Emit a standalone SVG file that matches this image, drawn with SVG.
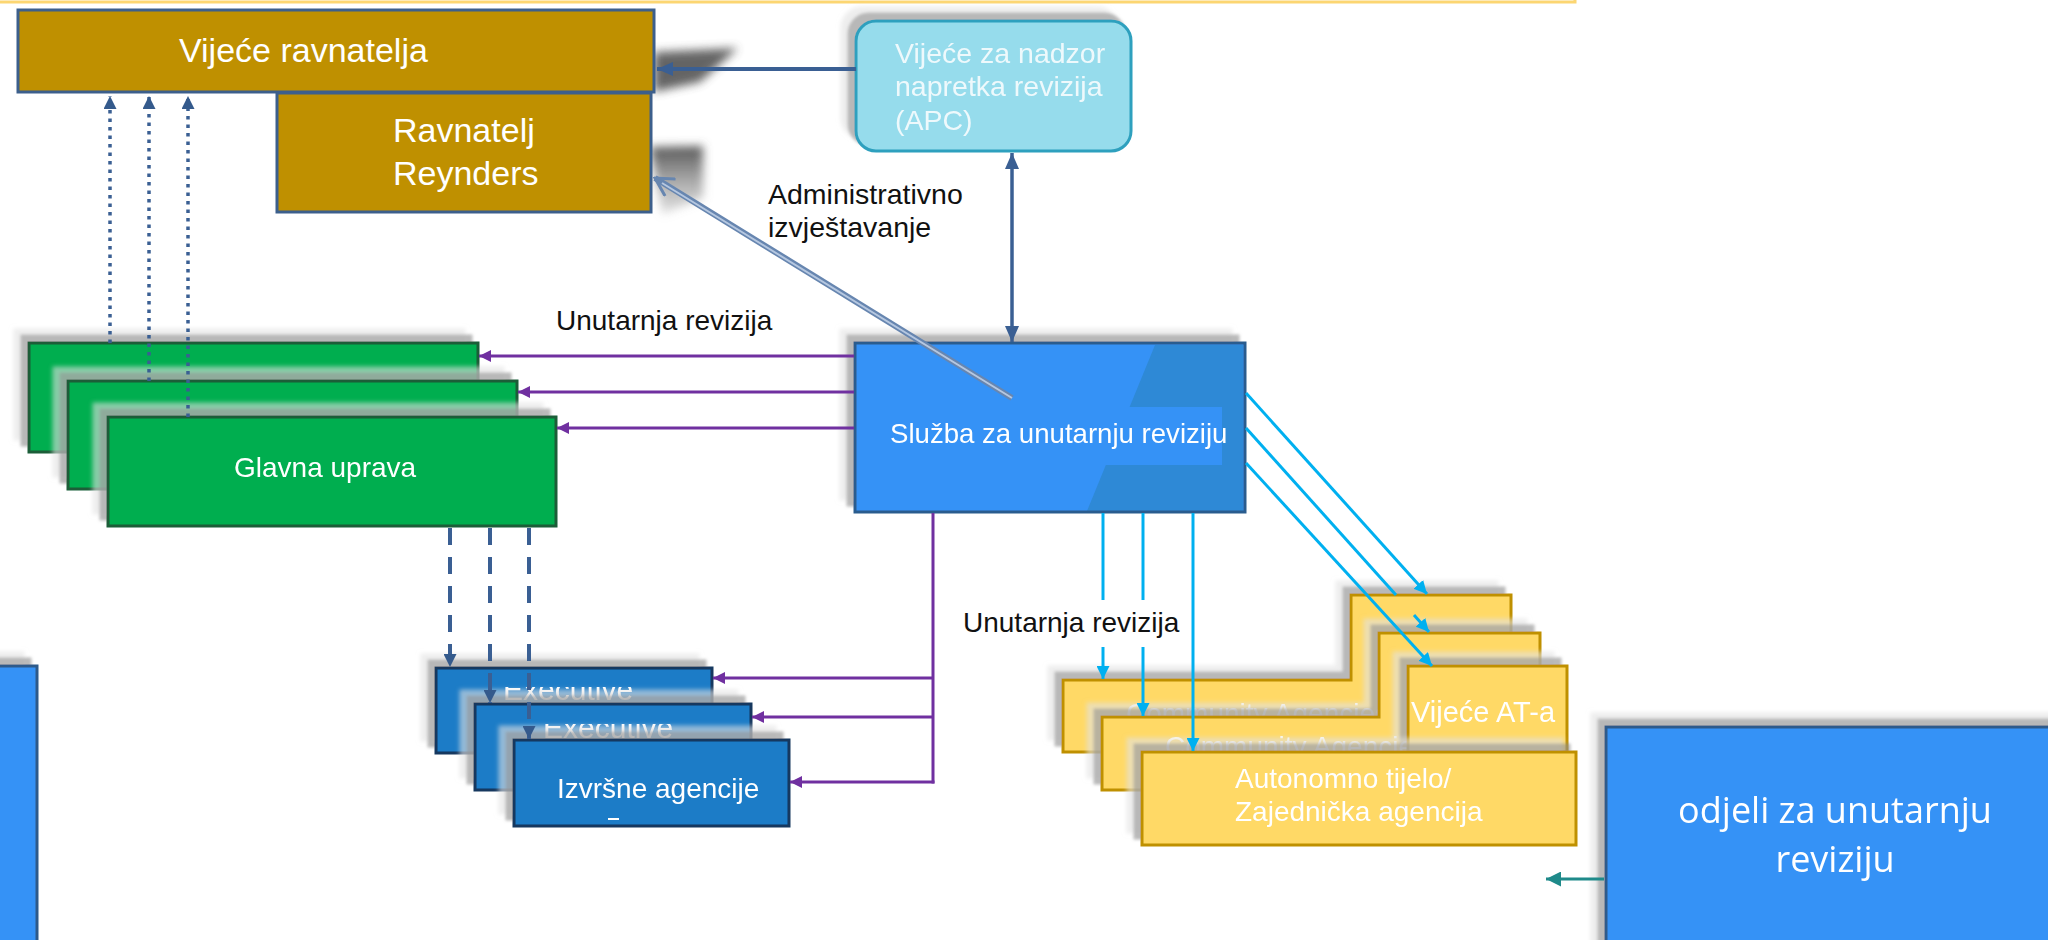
<svg xmlns="http://www.w3.org/2000/svg" width="2048" height="940" viewBox="0 0 2048 940">
<style>
.t{font-family:"Liberation Sans",Arial,sans-serif}
.w{fill:#ffffff}
.gold{fill:#BF9000;stroke:#3C5F8C;stroke-width:3}
.grn{fill:#00AE4F;stroke:#1B5D39;stroke-width:3}
.exe{fill:#1E7BC7;stroke:#12385E;stroke-width:3}
.yel{fill:#FFD966;stroke:#BF9000;stroke-width:3}
.blu{fill:#3592F6;stroke:#2E5A8A;stroke-width:3}
.pur{stroke:#7030A0;stroke-width:3;fill:none}
.cya{stroke:#00B0F0;stroke-width:3;fill:none}
.stl{stroke:#3A5F93;fill:none}
</style>
<defs>
<filter id="sh" x="-15%" y="-40%" width="130%" height="180%">
<feOffset in="SourceAlpha" dx="-14" dy="-13" result="o1"/>
<feGaussianBlur in="o1" stdDeviation="2" result="b1"/>
<feFlood flood-color="#e2e2e2" flood-opacity="0.6"/>
<feComposite in2="b1" operator="in" result="s1"/>
<feOffset in="SourceAlpha" dx="-7" dy="-7" result="o2"/>
<feGaussianBlur in="o2" stdDeviation="1.5" result="b2"/>
<feFlood flood-color="#8c8c8c" flood-opacity="0.6"/>
<feComposite in2="b2" operator="in" result="s2"/>
<feMerge><feMergeNode in="s1"/><feMergeNode in="s2"/><feMergeNode in="SourceGraphic"/></feMerge>
</filter>
<filter id="bl" x="-50%" y="-50%" width="200%" height="200%"><feGaussianBlur stdDeviation="5"/></filter>
<linearGradient id="gs" x1="0" y1="0" x2="0" y2="1"><stop offset="0" stop-color="#555"/><stop offset="1" stop-color="#999" stop-opacity="0.3"/></linearGradient>
<marker id="mB" viewBox="0 0 16 14" refX="16" refY="7" markerWidth="16" markerHeight="14" orient="auto-start-reverse" markerUnits="userSpaceOnUse"><path d="M0,0 L16,7 L0,14 Z" fill="#3A5F93"/></marker>
<marker id="mBs" viewBox="0 0 13 13" refX="13" refY="6.5" markerWidth="13" markerHeight="13" orient="auto" markerUnits="userSpaceOnUse"><path d="M0,0 L13,6.5 L0,13 Z" fill="#345A8C"/></marker>
<marker id="mP" viewBox="0 0 12 12" refX="12" refY="6" markerWidth="12" markerHeight="12" orient="auto" markerUnits="userSpaceOnUse"><path d="M0,0 L12,6 L0,12 Z" fill="#7030A0"/></marker>
<marker id="mC" viewBox="0 0 13 13" refX="13" refY="6.5" markerWidth="13" markerHeight="13" orient="auto" markerUnits="userSpaceOnUse"><path d="M0,0 L13,6.5 L0,13 Z" fill="#00B0F0"/></marker>
<marker id="mT" viewBox="0 0 15 15" refX="15" refY="7.5" markerWidth="15" markerHeight="15" orient="auto" markerUnits="userSpaceOnUse"><path d="M0,0 L15,7.5 L0,15 Z" fill="#1F8A8A"/></marker>
<marker id="mO" viewBox="0 0 22 22" refX="20" refY="11" markerWidth="22" markerHeight="22" orient="auto" markerUnits="userSpaceOnUse"><path d="M2,1 L20,11 L2,21" fill="none" stroke="#6786B0" stroke-width="3"/></marker>
</defs>
<rect width="2048" height="940" fill="#ffffff"/>
<path d="M-5,2 H1575 V-5" fill="none" stroke="#FCD672" stroke-width="3"/>

<g id="vijece-ravnatelja">
<polygon points="654,52 738,48 700,82 654,92" fill="#4a4a4a" opacity="0.85" filter="url(#bl)"/>
<rect class="gold" x="18" y="10" width="636" height="82"/>
<text class="t w" x="179" y="62" font-size="34">Vijeće ravnatelja</text>
</g>
<g id="ravnatelj-reynders">
<polygon points="650,147 703,146 703,198 662,214" fill="url(#gs)" filter="url(#bl)"/>
<rect class="gold" x="277" y="93" width="374" height="119"/>
<text class="t w" x="393" y="142" font-size="34">Ravnatelj</text>
<text class="t w" x="393" y="185" font-size="34">Reynders</text>
</g>
<g id="apc" filter="url(#sh)">
<rect x="856" y="21" width="275" height="130" rx="20" ry="20" fill="#96DCEC" stroke="#2DA0BE" stroke-width="3"/>
<text class="t" fill="#EEF9FC" font-size="28.5"><tspan x="895" y="63">Vijeće za nadzor</tspan><tspan x="895" y="96">napretka revizija</tspan><tspan x="895" y="130">(APC)</tspan></text>
</g>
<g id="sluzba" filter="url(#sh)">
<rect x="855" y="343" width="390" height="169" fill="#3592F6"/>
<polygon points="1155,345 1243,345 1243,511 1087,511" fill="#2E89D6"/>
<rect x="1000" y="407" width="222" height="58" fill="#3592F6"/>
<rect x="855" y="343" width="390" height="169" fill="none" stroke="#2C5C8E" stroke-width="3"/>
<text class="t w" x="890" y="443" font-size="27.6">Služba za unutarnju reviziju</text>
</g>
<g id="glavna-uprava-1" filter="url(#sh)"><rect class="grn" x="29" y="343" width="449" height="109"/></g>
<g id="glavna-uprava-2" filter="url(#sh)"><rect class="grn" x="68" y="381" width="449" height="108"/></g>
<g id="glavna-uprava-3" filter="url(#sh)">
<rect class="grn" x="108" y="417" width="448" height="109"/>
<text class="t w" x="234" y="477" font-size="28">Glavna uprava</text>
</g>
<g id="izvrsne-agencije-1" filter="url(#sh)">
<rect class="exe" x="436" y="668" width="276" height="85"/>
<text class="t w" x="503" y="700" font-size="30">Executive</text>
<rect x="500" y="670" width="166" height="17" fill="#1E7BC7"/>
</g>
<g id="izvrsne-agencije-2" filter="url(#sh)">
<rect class="exe" x="475" y="704" width="276" height="86"/>
<text class="t w" x="543" y="738" font-size="30">Executive</text>
<rect x="540" y="706" width="141" height="18" fill="#1E7BC7"/>
</g>
<g id="izvrsne-agencije-3" filter="url(#sh)">
<rect class="exe" x="514" y="740" width="275" height="86"/>
<text class="t w" x="557" y="798" font-size="28">Izvršne agencije</text>
<rect x="608" y="818" width="11" height="2" fill="#ffffff"/>
</g>
<g id="agencija-1" filter="url(#sh)">
<path class="yel" d="M1063,680 H1351 V595 H1511 V752 H1063 Z"/>
<text class="t" fill="#ffffff" fill-opacity="0.9" x="1126" y="723" font-size="28">Community Agencies</text>
</g>
<g id="agencija-2" filter="url(#sh)">
<path class="yel" d="M1102,717 H1379 V633 H1540 V790 H1102 Z"/>
<text class="t" fill="#ffffff" fill-opacity="0.9" x="1165" y="756" font-size="28">Community Agencies</text>
</g>
<g id="vijece-at" filter="url(#sh)">
<rect class="yel" x="1408" y="666" width="159" height="86"/>
<text class="t w" x="1411" y="722" font-size="29">Vijeće AT-a</text>
</g>
<g id="autonomno-tijelo" filter="url(#sh)">
<rect class="yel" x="1142" y="752" width="434" height="93"/>
<text class="t w" font-size="28"><tspan x="1235" y="788">Autonomno tijelo/</tspan><tspan x="1235" y="821">Zajednička agencija</tspan></text>
</g>
<g id="lijevi-odjel" filter="url(#sh)">
<rect class="blu" x="-20" y="666" width="57" height="300"/>
</g>
<g id="odjeli" filter="url(#sh)">
<rect class="blu" x="1606" y="727" width="460" height="230" stroke-width="4"/>
<text fill="#ffffff" font-family="'Open Sans','Noto Sans',sans-serif" font-size="36" text-anchor="middle"><tspan x="1835" y="823">odjeli za unutarnju</tspan><tspan x="1835" y="872">reviziju</tspan></text>
</g>

<g id="connectors">
<line class="stl" x1="856" y1="69" x2="657" y2="69" stroke-width="4" marker-end="url(#mB)"/>
<line class="stl" x1="1012" y1="153" x2="1012" y2="342" stroke-width="3.5" marker-start="url(#mB)" marker-end="url(#mB)"/>
<line x1="1012" y1="398" x2="655" y2="178" stroke="#6786B0" stroke-width="6" marker-end="url(#mO)"/>
<line x1="1012" y1="398" x2="662" y2="183" stroke="#B5C7E0" stroke-width="2"/>
<g class="stl" stroke="#3A5F93" stroke-width="3.5" stroke-dasharray="3.5 5">
<line x1="110" y1="343" x2="110" y2="96" marker-end="url(#mBs)"/>
<line x1="149" y1="381" x2="149" y2="96" marker-end="url(#mBs)"/>
<line x1="188" y1="417" x2="188" y2="96" marker-end="url(#mBs)"/>
</g>
<g class="stl" stroke="#2F5A8C" stroke-width="4" stroke-dasharray="17 12">
<line x1="450" y1="528" x2="450" y2="667" marker-end="url(#mBs)"/>
<line x1="490" y1="528" x2="490" y2="703" marker-end="url(#mBs)"/>
<line x1="529" y1="528" x2="529" y2="739" marker-end="url(#mBs)"/>
</g>
<line class="pur" x1="854" y1="356" x2="479" y2="356" marker-end="url(#mP)"/>
<line class="pur" x1="854" y1="392" x2="518" y2="392" marker-end="url(#mP)"/>
<line class="pur" x1="854" y1="428" x2="557" y2="428" marker-end="url(#mP)"/>
<line class="pur" x1="933" y1="513" x2="933" y2="783.5"/>
<line class="pur" x1="933" y1="678" x2="713" y2="678" marker-end="url(#mP)"/>
<line class="pur" x1="933" y1="717" x2="752" y2="717" marker-end="url(#mP)"/>
<line class="pur" x1="934.5" y1="782" x2="790" y2="782" marker-end="url(#mP)"/>
<line class="cya" x1="1103" y1="513" x2="1103" y2="679" marker-end="url(#mC)"/>
<line class="cya" x1="1143" y1="513" x2="1143" y2="716" marker-end="url(#mC)"/>
<line class="cya" x1="1193" y1="513" x2="1193" y2="751" marker-end="url(#mC)"/>
<line class="cya" x1="1246" y1="393" x2="1427" y2="594" marker-end="url(#mC)"/>
<line class="cya" x1="1246" y1="428" x2="1396" y2="595"/>
<line class="cya" x1="1414" y1="615" x2="1429" y2="632" marker-end="url(#mC)"/>
<line class="cya" x1="1246" y1="463" x2="1432" y2="666" marker-end="url(#mC)"/>
<line x1="1604" y1="879" x2="1546" y2="879" stroke="#1F8A8A" stroke-width="3" marker-end="url(#mT)"/>
<text class="t" fill="#111" font-size="28.5"><tspan x="768" y="204">Administrativno</tspan><tspan x="768" y="237">izvještavanje</tspan></text>
<text class="t" fill="#111" x="556" y="330" font-size="28">Unutarnja revizija</text>
<rect x="958" y="600" width="226" height="47" fill="#ffffff"/>
<text class="t" fill="#111" x="963" y="632" font-size="28">Unutarnja revizija</text>
</g>
</svg>
